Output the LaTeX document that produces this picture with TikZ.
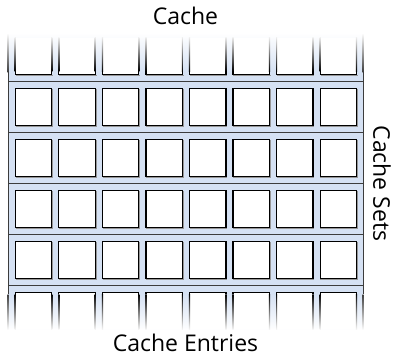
\documentclass[tikz,border=0pt]{standalone}
\usepackage{fontspec}
\setmainfont{Open Sans}
\definecolor{bandblue}{RGB}{213,225,243}
\definecolor{rulegray}{RGB}{60,60,60}
\definecolor{shadowgray}{RGB}{150,150,150}
\begin{document}
\begin{tikzpicture}[x=1pt,y=1pt,
  cell/.style={draw=black, line width=1.2pt, fill=white, minimum size=36.4pt,
    inner sep=0pt, outer sep=0pt},
  cellfade/.style={fill=white, minimum size=36.4pt, inner sep=0pt, outer sep=0pt},
  band/.style={fill=bandblue},
  rule/.style={draw=rulegray, line width=0.9pt},
  lbl/.style={font=\fontsize{23}{27}\selectfont, text=black, inner sep=0pt}]
\useasboundingbox (0,-356) rectangle (397,0);
% ---- background of the sets ----
\shade[top color=white, bottom color=bandblue] (8,-33) rectangle (363,-72);
\fill[band] (8,-72) rectangle (363,-294);
\shade[top color=bandblue, bottom color=white] (8,-294) rectangle (363,-330);
% ---- horizontal rules ----
\foreach \y [count=\i] in {81,132,183,234,285} {
  \coordinate (hl-\i) at (8,-\y);
  \coordinate (hr-\i) at (363,-\y);
  \draw[rule] (hl-\i) -- (hr-\i);
}
% ---- vertical frame lines (fading at both ends) ----
\foreach \x in {8,363} {
  \shade[top color=white, bottom color=rulegray] (\x-0.45,-33) rectangle (\x+0.45,-72);
  \fill[rulegray] (\x-0.45,-72) rectangle (\x+0.45,-294);
  \shade[top color=rulegray, bottom color=white] (\x-0.45,-294) rectangle (\x+0.45,-330);
}
% ---- cache entries ----
\foreach \c in {0,...,7} {
  \pgfmathsetmacro{\cx}{33.5+43.55*\c}
  % top partial row (fading upward)
  \node[cellfade] (cell-0-\c) at (\cx,-56) {};
  \fill[shadowgray] (\cx-17.8,-74.8) rectangle (\cx+19.6,-75.6);
  \foreach \s in {-1,1} {
    \shade[top color=black!8, bottom color=black] (\cx+\s*18.2-0.6,-37.8) rectangle (\cx+\s*18.2+0.6,-71);
    \fill[black] (\cx+\s*18.2-0.6,-71) rectangle (\cx+\s*18.2+0.6,-74.8);
  }
  \fill[black] (\cx-18.8,-73.6) rectangle (\cx+18.8,-74.8);
  % full rows
  \foreach \r in {1,...,4} {
    \pgfmathsetmacro{\cy}{-(56+51*\r)}
    \fill[shadowgray] (\cx-18.0,\cy+18.0) rectangle (\cx+19.6,\cy-19.6);
    \node[cell] (cell-\r-\c) at (\cx,\cy) {};
  }
  % bottom partial row (fading downward)
  \node[cellfade] (cell-5-\c) at (\cx,-311) {};
  \fill[black] (\cx-18.8,-292.2) rectangle (\cx+18.8,-293.4);
  \foreach \s in {-1,1} {
    \fill[black] (\cx+\s*18.2-0.6,-292.2) rectangle (\cx+\s*18.2+0.6,-294);
    \shade[top color=black, bottom color=black!4] (\cx+\s*18.2-0.6,-294) rectangle (\cx+\s*18.2+0.6,-329.2);
  }
}
% ---- labels ----
\node[lbl, anchor=base] (title) at (185.5,-24) {Cache};
\node[lbl, anchor=base] (entries) at (185.5,-351.5) {Cache Entries};
\node[lbl, rotate=-90] (sets) at (382,-183.5) {Cache Sets};
\end{tikzpicture}
\end{document}
